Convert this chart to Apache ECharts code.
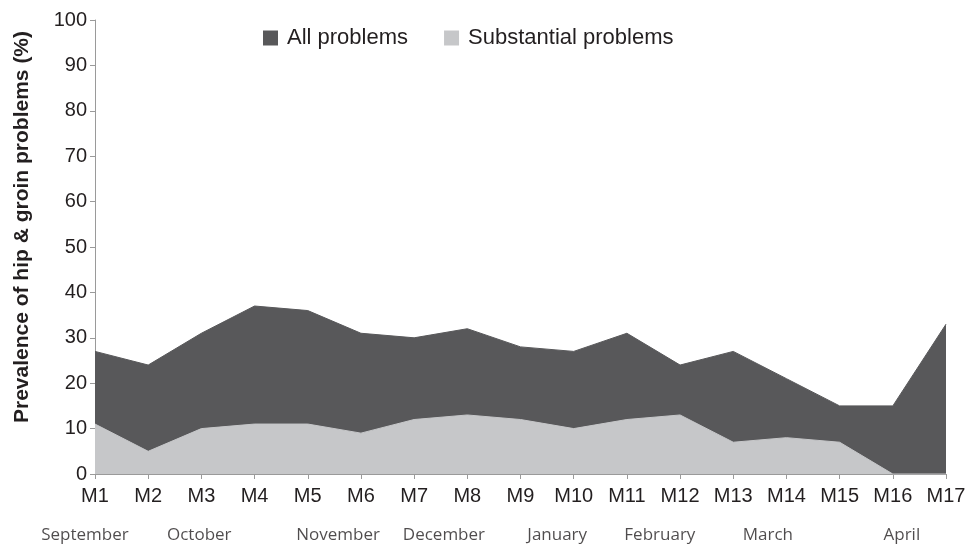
<!DOCTYPE html>
<html>
<head>
<meta charset="utf-8">
<script src="https://cdn.jsdelivr.net/npm/echarts@6/dist/echarts.min.js"></script>
<style>
  html, body { margin: 0; padding: 0; background: #fff; }
  #chart { width: 971px; height: 547px; }
</style>
</head>
<body>
<div id="chart"></div>
<script>
// Données
const categories = ["M1", "M2", "M3", "M4", "M5", "M6", "M7", "M8", "M9", "M10", "M11", "M12", "M13", "M14", "M15", "M16", "M17"];
const allProblems = [27, 24, 31, 37, 36, 31, 30, 32, 28, 27, 31, 24, 27, 21, 15, 15, 33];
const substantialProblems = [11, 5, 10, 11, 11, 9, 12, 13, 12, 10, 12, 13, 7, 8, 7, 0, 0];
const yTicks = [0, 10, 20, 30, 40, 50, 60, 70, 80, 90, 100];

// Mois affichés sous l'axe (position en numéro de mesure M)
const months = ["September", "October", "November", "December", "January", "February", "March", "April"];
const monthPos = [0.81, 2.96, 5.57, 7.56, 9.69, 11.62, 13.65, 16.17];

const chart = echarts.init(document.getElementById("chart"));

const axisGrey = "#9a9a9a";
const textCol = "#231f20";

const option = {
    animation: false,
    backgroundColor: "#fff",
    textStyle: { fontFamily: "Liberation Sans, Arial, sans-serif" },
    legend: {
        left: 258,
        top: 22,
        itemWidth: 15,
        itemHeight: 15,
        itemGap: 36,
        icon: "rect",
        textStyle: { fontSize: 22, color: textCol, padding: [0, 0, 0, 4] },
        data: ["All problems", "Substantial problems"]
    },
    grid: [
        { left: 95, right: 25, top: 20, bottom: 73 },
        { left: 95, right: 25, top: 525, height: 20 }
    ],
    xAxis: [{
        type: "category",
        gridIndex: 0,
        data: categories,
        boundaryGap: false,
        axisLine: { lineStyle: { color: axisGrey, width: 1 } },
        axisTick: { show: true, length: 5, lineStyle: { color: axisGrey } },
        axisLabel: { fontSize: 20, color: textCol, margin: 12 },
        splitLine: { show: false }
    }, {
        type: "value",
        gridIndex: 1,
        min: 1,
        max: 17,
        show: false
    }],
    yAxis: [{
        type: "value",
        gridIndex: 0,
        min: yTicks[0],
        max: yTicks[yTicks.length - 1],
        interval: 10,
        name: "Prevalence of hip & groin problems (%)",
        nameLocation: "middle",
        nameRotate: 90,
        nameGap: 62,
        nameTextStyle: { fontSize: 21, fontWeight: "bold", color: textCol, padding: [0, 0, 0, 40] },
        axisLine: { show: true, lineStyle: { color: axisGrey, width: 1 } },
        axisTick: { show: true, length: 5, lineStyle: { color: axisGrey } },
        axisLabel: { fontSize: 20, color: textCol, margin: 8 },
        splitLine: { show: false }
    }, {
        type: "value",
        gridIndex: 1,
        min: 0,
        max: 1,
        show: false
    }],
    series: [{
        name: "All problems",
        type: "line",
        data: allProblems,
        showSymbol: false,
        symbol: "none",
        itemStyle: { color: "#58585a" },
        lineStyle: { color: "#58585a", width: 1 },
        areaStyle: { color: "#58585a", opacity: 1 },
        z: 2
    }, {
        name: "Substantial problems",
        type: "line",
        data: substantialProblems,
        showSymbol: false,
        symbol: "none",
        itemStyle: { color: "#c6c7c9" },
        lineStyle: { color: "#c6c7c9", width: 1 },
        areaStyle: { color: "#c6c7c9", opacity: 1 },
        z: 3
    }, {
        type: "scatter",
        xAxisIndex: 1,
        yAxisIndex: 1,
        clip: false,
        symbolSize: 0,
        silent: true,
        data: months.map((m, i) => [monthPos[i], 0.5, m]),
        label: {
            show: true,
            position: "inside",
            formatter: p => p.data[2],
            fontFamily: "Open Sans, sans-serif",
            fontSize: 17,
            color: textCol
        }
    }]
};

chart.setOption(option);
</script>
</body>
</html>
